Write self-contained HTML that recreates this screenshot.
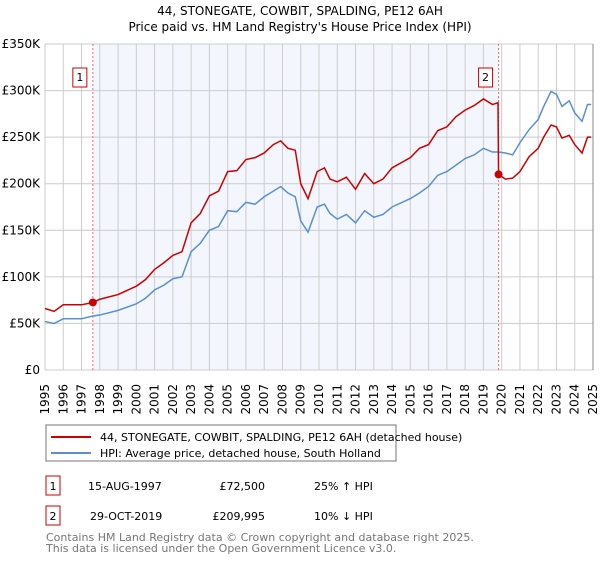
<!DOCTYPE html>
<html><head><meta charset="utf-8"><style>
body{margin:0;background:#fff;font-family:"Liberation Sans","DejaVu Sans",sans-serif;}
svg text{font-family:"DejaVu Sans","Liberation Sans",sans-serif;}
</style></head><body>
<svg id="chart" width="600" height="560" viewBox="0 0 600 560">
<text x="300" y="15" text-anchor="middle" font-size="12">44, STONEGATE, COWBIT, SPALDING, PE12 6AH</text>
<text x="300" y="31" text-anchor="middle" font-size="12">Price paid vs. HM Land Registry's House Price Index (HPI)</text>
<g id="plot"></g>
<g>
<rect x="46" y="425" width="350" height="36" fill="#fff" stroke="#777"/>
<line x1="51" y1="437" x2="91" y2="437" stroke="#cc0000" stroke-width="2"/>
<text x="100" y="441" font-size="11">44, STONEGATE, COWBIT, SPALDING, PE12 6AH (detached house)</text>
<line x1="51" y1="453" x2="91" y2="453" stroke="#5b8fd0" stroke-width="2"/>
<text x="100" y="457" font-size="11">HPI: Average price, detached house, South Holland</text>
</g>
<g font-size="11">
<rect x="46" y="476" width="14" height="19" fill="#fff" stroke="#cc0000"/>
<text x="53" y="490" text-anchor="middle">1</text>
<text x="88" y="490">15-AUG-1997</text>
<text x="265" y="490" text-anchor="end">£72,500</text>
<text x="314" y="490">25% ↑ HPI</text>
<rect x="46" y="506" width="14" height="19" fill="#fff" stroke="#cc0000"/>
<text x="53" y="520" text-anchor="middle">2</text>
<text x="90" y="520">29-OCT-2019</text>
<text x="265" y="520" text-anchor="end">£209,995</text>
<text x="314" y="520">10% ↓ HPI</text>
</g>
<text x="46" y="541" font-size="11" fill="#777">Contains HM Land Registry data © Crown copyright and database right 2025.</text>
<text x="46" y="552" font-size="11" fill="#777">This data is licensed under the Open Government Licence v3.0.</text>
</svg>
<script>
const hpiYears=[1995,1995.5,1996,1997,1997.62,1998,1999,2000,2000.5,2001,2001.5,2002,2002.5,2003,2003.5,2004,2004.5,2005,2005.5,2006,2006.5,2007,2007.5,2007.9,2008.3,2008.7,2009.0,2009.4,2009.9,2010.3,2010.6,2011,2011.5,2012,2012.5,2013,2013.5,2014,2015,2015.5,2016,2016.5,2017,2017.5,2018,2018.5,2019,2019.5,2019.83,2020.2,2020.6,2021,2021.5,2022,2022.3,2022.7,2023,2023.3,2023.7,2024,2024.4,2024.7,2024.9];
const hpiValues=[52,50,55,55,58,59,64,71,77,86,91,98,100,127,136,150,154,171,170,180,178,186,192,197,190,186,160,148,175,178,168,162,167,158,171,164,167,175,184,190,197,209,213,220,227,231,238,234,234,233,231,244,258,269,283,299,296,283,289,276,267,285,285];
const redYears=[1995,1995.5,1996,1997,1997.62,1998,1999,2000,2000.5,2001,2001.5,2002,2002.5,2003,2003.5,2004,2004.5,2005,2005.5,2006,2006.5,2007,2007.5,2007.9,2008.3,2008.7,2009.0,2009.4,2009.9,2010.3,2010.6,2011,2011.5,2012,2012.5,2013,2013.5,2014,2015,2015.5,2016,2016.5,2017,2017.5,2018,2018.5,2019,2019.5,2019.8,2019.83,2020.2,2020.6,2021,2021.5,2022,2022.3,2022.7,2023,2023.3,2023.7,2024,2024.4,2024.7,2024.9];
const redValues=[66,63,70,70,72.5,76,81,90,97,108,115,123,127,158,168,187,192,213,214,226,228,233,242,246,238,236,200,184,213,217,205,202,207,194,211,200,205,217,228,238,242,257,261,272,279,284,291,285,287,209.995,205,206,213,229,238,250,263,261,249,252,242,233,250,250];
const yTicks=[0,50,100,150,200,250,300,350];
const yTickLabels=["£0","£50K","£100K","£150K","£200K","£250K","£300K","£350K"];
const xTicks=[1995,1996,1997,1998,1999,2000,2001,2002,2003,2004,2005,2006,2007,2008,2009,2010,2011,2012,2013,2014,2015,2016,2017,2018,2019,2020,2021,2022,2023,2024,2025];
const sales=[{label:"1",year:1997.62,value:72.5},{label:"2",year:2019.83,value:209.995}];

const X0=45,X1=593,Y0=370,Y1=44;
const xs=y=>X0+(y-1995)/(2025-1995)*(X1-X0);
const ys=v=>Y0-v/350*(Y0-Y1);
const NS="http://www.w3.org/2000/svg";
const g=document.getElementById('plot');
function mk(tag,attrs,parent){const e=document.createElementNS(NS,tag);for(const k in attrs)e.setAttribute(k,attrs[k]);(parent||g).appendChild(e);return e;}

const bg=mk('rect',{x:xs(sales[0].year),y:Y1,width:xs(sales[1].year)-xs(sales[0].year),height:Y0-Y1,fill:'#eef3fc',opacity:0.7});


xTicks.forEach(t=>{
 const l=mk('line',{x1:xs(t),x2:xs(t),y1:Y1,y2:Y0,stroke:'#cccccc','stroke-width':1});
 
 
 const px=xs(t)+4, py=Y0+14;
 const tx=mk('text',{x:px,y:py,'font-size':12,'text-anchor':'end',transform:'rotate(-90 '+px+' '+py+')'});
 tx.textContent=t;
 
 
});
yTicks.forEach((t,i)=>{
 const l=mk('line',{x1:X0,x2:X1,y1:ys(t),y2:ys(t),stroke:'#cccccc','stroke-width':1});
 
 
 const tx=mk('text',{x:40,y:ys(t)+4,'font-size':12,'text-anchor':'end'});
 tx.textContent=yTickLabels[i];
 
 
});
const ax=mk('line',{x1:X1,x2:X1,y1:Y1,y2:Y0,stroke:'#888','stroke-width':1});


sales.forEach(s=>{
 const l=mk('line',{x1:xs(s.year),x2:xs(s.year),y1:Y1,y2:Y0,stroke:'#ff6666','stroke-width':1,'stroke-dasharray':'2,2'});
 
 
 const r=mk('rect',{x:xs(s.year)-20,y:68,width:14,height:19,fill:'#fff',stroke:'#cc0000'});
 
 
 const t=mk('text',{x:xs(s.year)-13,y:81,'font-size':11,'text-anchor':'middle'});
 t.textContent=s.label;
 
 
});
const hp=mk('polyline',{points:hpiYears.map((y,i)=>xs(y)+','+ys(hpiValues[i])).join(' '),fill:'none',stroke:'#5b8fd0','stroke-width':1.5});


const rp=mk('polyline',{points:redYears.map((y,i)=>xs(y)+','+ys(redValues[i])).join(' '),fill:'none',stroke:'#cc0000','stroke-width':1.5});


sales.forEach(s=>{
 const c=mk('circle',{cx:xs(s.year),cy:ys(s.value),r:4,fill:'#cc0000'});
 
 
});
</script>
</body></html>
